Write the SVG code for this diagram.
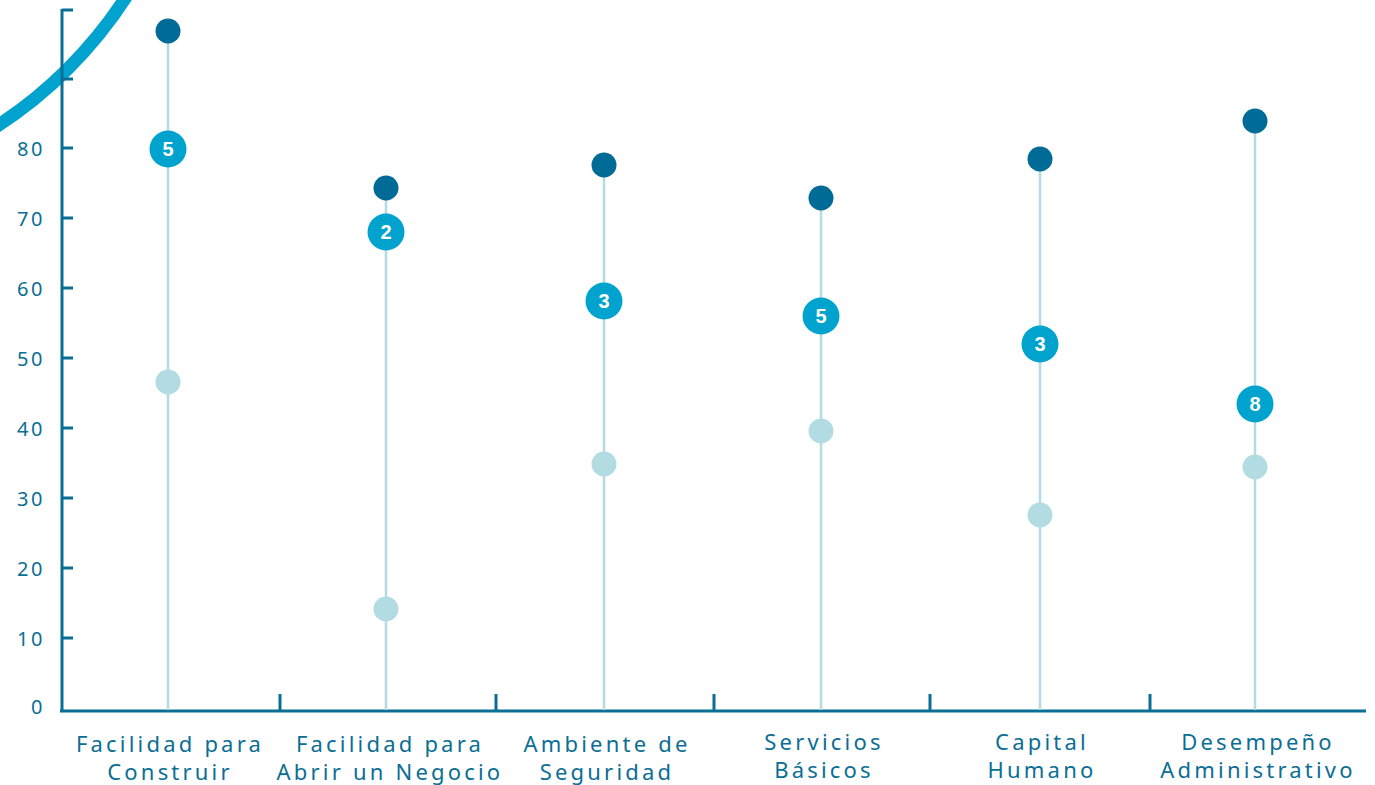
<svg xmlns="http://www.w3.org/2000/svg" width="1375" height="785" viewBox="0 0 1375 785">
<style>
.axis{stroke:#0a6e95;stroke-width:3;fill:none}
.stem{stroke:#b3dbe2;stroke-width:2.5}
.hi{fill:#006b96}
.mid{fill:#00a3ce}
.lo{fill:#b3dbe2}
.num{font-family:"Liberation Sans",Arial,sans-serif;font-weight:bold;font-size:20px;fill:#fff;text-anchor:middle}
.yl{font-family:"Noto Sans",sans-serif;font-size:20px;fill:#0a6e95;text-anchor:end;letter-spacing:2.5px}
.cl{font-family:"Noto Sans",sans-serif;font-size:22px;fill:#0a6e95;text-anchor:middle;letter-spacing:3.2px}
</style>
<rect width="1375" height="785" fill="#fff"/>
<circle cx="-240" cy="-240" r="436" fill="none" stroke="#00a3ce" stroke-width="13"/>
<g id="axes">
<path class="axis" d="M62 9V712M60 711H1366M62 10H73M62 79H73M62 148H73M62 218H73M62 288H73M62 358H73M62 428H73M62 498H73M62 568H73M62 638H73"/>
<path class="axis" d="M280 711V694M496 711V694M714 711V694M930 711V694M1150 711V694"/>
<text class="yl" x="45" y="156">80</text>
<text class="yl" x="45" y="226">70</text>
<text class="yl" x="45" y="296">60</text>
<text class="yl" x="45" y="366">50</text>
<text class="yl" x="45" y="436">40</text>
<text class="yl" x="45" y="506">30</text>
<text class="yl" x="45" y="576">20</text>
<text class="yl" x="45" y="646">10</text>
<text class="yl" x="45" y="714">0</text>
</g>
<g id="connectors">
<line class="stem" x1="168" y1="31" x2="168" y2="710"/>
<line class="stem" x1="386" y1="188" x2="386" y2="710"/>
<line class="stem" x1="604" y1="165" x2="604" y2="710"/>
<line class="stem" x1="821" y1="198" x2="821" y2="710"/>
<line class="stem" x1="1040" y1="159" x2="1040" y2="710"/>
<line class="stem" x1="1255" y1="121" x2="1255" y2="710"/>
</g>
<g id="cat1">
<circle class="lo" cx="168" cy="382" r="12.5"/>
<circle class="hi" cx="168" cy="31" r="12.5"/>
<circle class="mid" cx="168" cy="149" r="18.5"/>
<text class="num" x="168" y="156">5</text>
<text class="cl" x="170" y="752">Facilidad para</text>
<text class="cl" x="170" y="780">Construir</text>
</g>
<g id="cat2">
<circle class="lo" cx="386" cy="609" r="12.5"/>
<circle class="hi" cx="386" cy="188" r="12.5"/>
<circle class="mid" cx="386" cy="232" r="18.5"/>
<text class="num" x="386" y="239">2</text>
<text class="cl" x="390" y="752">Facilidad para</text>
<text class="cl" x="390" y="780">Abrir un Negocio</text>
</g>
<g id="cat3">
<circle class="lo" cx="604" cy="464" r="12.5"/>
<circle class="hi" cx="604" cy="165" r="12.5"/>
<circle class="mid" cx="604" cy="301" r="18.5"/>
<text class="num" x="604" y="308">3</text>
<text class="cl" x="607" y="752">Ambiente de</text>
<text class="cl" x="607" y="780">Seguridad</text>
</g>
<g id="cat4">
<circle class="lo" cx="821" cy="431" r="12.5"/>
<circle class="hi" cx="821" cy="198" r="12.5"/>
<circle class="mid" cx="821" cy="316" r="18.5"/>
<text class="num" x="821" y="323">5</text>
<text class="cl" x="824" y="750">Servicios</text>
<text class="cl" x="824" y="778">Básicos</text>
</g>
<g id="cat5">
<circle class="lo" cx="1040" cy="515" r="12.5"/>
<circle class="hi" cx="1040" cy="159" r="12.5"/>
<circle class="mid" cx="1040" cy="344" r="18.5"/>
<text class="num" x="1040" y="351">3</text>
<text class="cl" x="1042" y="750">Capital</text>
<text class="cl" x="1042" y="778">Humano</text>
</g>
<g id="cat6">
<circle class="lo" cx="1255" cy="467" r="12.5"/>
<circle class="hi" cx="1255" cy="121" r="12.5"/>
<circle class="mid" cx="1255" cy="404" r="18.5"/>
<text class="num" x="1255" y="411">8</text>
<text class="cl" x="1258" y="750">Desempeño</text>
<text class="cl" x="1258" y="778">Administrativo</text>
</g>
</svg>
